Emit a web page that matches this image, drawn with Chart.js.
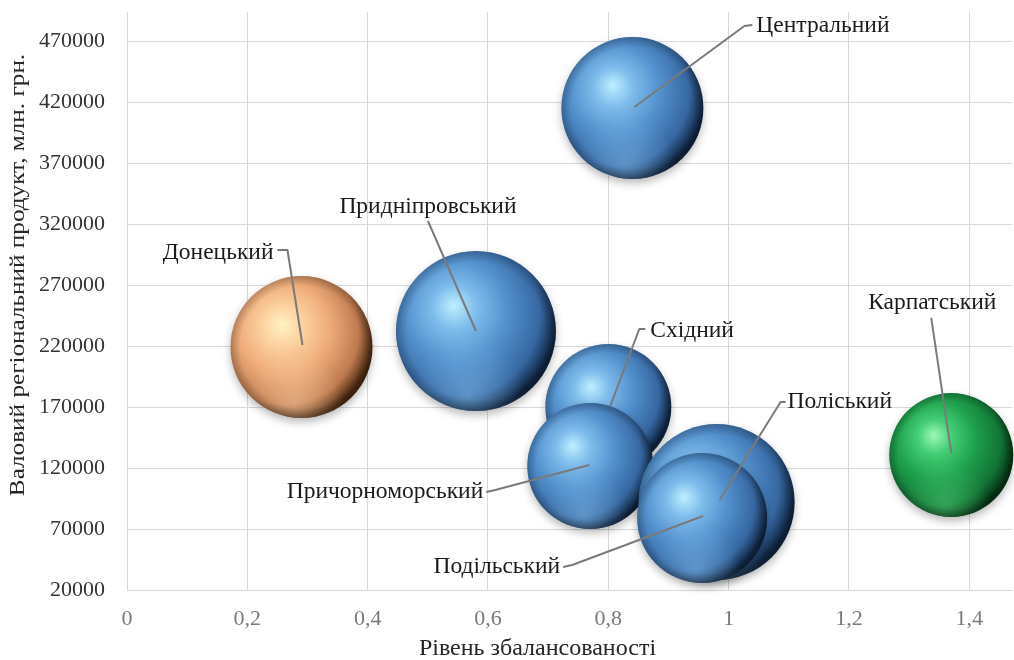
<!DOCTYPE html>
<html lang="uk">
<head>
<meta charset="utf-8">
<title>Рівень збалансованості регіонів</title>
<script src="https://cdn.jsdelivr.net/npm/chart.js@4.4.1/dist/chart.umd.min.js"></script>
<style>
  html, body { margin: 0; padding: 0; background: #fff; }
  #wrap { width: 1014px; height: 660px; position: relative; }
</style>
</head>
<body>
<div id="wrap"><canvas id="bubbleChart"></canvas></div>
<script>
// регіони
const regions = ['Донецький', 'Придніпровський', 'Центральний', 'Східний',
                 'Причорноморський', 'Поліський', 'Подільський', 'Карпатський'];
// рівень збалансованості (вісь X)
const balance = [0.29, 0.58, 0.84, 0.80, 0.77, 0.98, 0.956, 1.37];
// валовий регіональний продукт, млн. грн. (вісь Y)
const grp = [219200, 232300, 415100, 170000, 121600, 92100, 79000, 130700];
// розмір бульбашки
const bubbleSize = [71, 80, 71, 63, 63, 78, 65, 62];

const xTicks = [0, 0.2, 0.4, 0.6, 0.8, 1, 1.2, 1.4];
const yTicks = [20000, 70000, 120000, 170000, 220000, 270000, 320000, 370000, 420000, 470000];

// стилі
const FONT = '"Liberation Serif", "Times New Roman", serif';
const palettes = {
  blue:   ['#bdf0ff', '#7fbdec', '#5290cd', '#3667a1', '#0f2440'],
  orange: ['#fff3c4', '#fdd3a2', '#efac7a', '#bf7b4f', '#4a2810'],
  green:  ['#9ff8b8', '#44cf76', '#1ea04c', '#127435', '#053314']
};
const reflect = {
  blue: '140,200,245',
  orange: '255,215,170',
  green: '90,220,130'
};
const pointColor = ['orange', 'blue', 'blue', 'blue', 'blue', 'blue', 'blue', 'green'];

// розміщення підписів відносно центру бульбашки
const labelLayout = [
  { dx: -28, dy: -94, align: 'right', line: [[1, -2], [-14, -97], [-24, -97]] },
  { dx: -48, dy: -124, align: 'center', line: [[0, 0], [-48, -110]] },
  { dx: 124, dy: -82, align: 'left', line: [[2, -1], [112, -82], [120, -83]] },
  { dx: 42, dy: -76, align: 'left', line: [[2, -1], [31, -78], [37, -78]] },
  { dx: -107, dy: 26, align: 'right', line: [[-1, -1], [-95, 24], [-104, 26]] },
  { dx: 71, dy: -100, align: 'left', line: [[3, -2], [64, -100], [69, -100]] },
  { dx: -142, dy: 49, align: 'right', line: [[1, -2], [-130, 47], [-139, 49]] },
  { dx: -19, dy: -152, align: 'center', line: [[0, -2], [-20, -137]] }
];

function drawSphere(ctx, x, y, r, key) {
  const p = palettes[key];
  ctx.save();
  ctx.shadowColor = 'rgba(0,0,0,0.28)';
  ctx.shadowBlur = 8;
  ctx.shadowOffsetY = 4;
  const g = ctx.createRadialGradient(x - r * 0.28, y - r * 0.32, 0, x - r * 0.22, y - r * 0.2, r * 1.24);
  g.addColorStop(0, p[0]);
  g.addColorStop(0.22, p[1]);
  g.addColorStop(0.52, p[2]);
  g.addColorStop(0.83, p[3]);
  g.addColorStop(1, p[4]);
  ctx.beginPath();
  ctx.arc(x, y, r, 0, Math.PI * 2);
  ctx.fillStyle = g;
  ctx.fill();
  ctx.restore();

  ctx.save();
  ctx.beginPath();
  ctx.arc(x, y, r, 0, Math.PI * 2);
  ctx.clip();
  const b = ctx.createRadialGradient(x - r * 0.1, y + r * 0.78, 0, x - r * 0.1, y + r * 0.78, r * 0.7);
  b.addColorStop(0, 'rgba(' + reflect[key] + ',0.45)');
  b.addColorStop(1, 'rgba(' + reflect[key] + ',0)');
  ctx.fillStyle = b;
  ctx.fillRect(x - r, y - r, r * 2, r * 2);
  const rim = ctx.createRadialGradient(x, y, r * 0.86, x, y, r);
  rim.addColorStop(0, 'rgba(0,0,0,0)');
  rim.addColorStop(1, 'rgba(0,0,0,0.22)');
  ctx.fillStyle = rim;
  ctx.fillRect(x - r, y - r, r * 2, r * 2);
  ctx.restore();
}

const spherePlugin = {
  id: 'spheres',
  afterDatasetsDraw(chart) {
    const ctx = chart.ctx;
    const meta = chart.getDatasetMeta(0);
    meta.data.forEach((el, i) => {
      drawSphere(ctx, el.x, el.y, el.options.radius, pointColor[i]);
    });
    // підписи з виносками
    ctx.save();
    ctx.strokeStyle = '#7a7a7a';
    ctx.lineWidth = 2;
    ctx.lineJoin = 'round';
    ctx.font = '23.5px ' + FONT;
    ctx.fillStyle = '#1a1a1a';
    ctx.textBaseline = 'middle';
    meta.data.forEach((el, i) => {
      const L = labelLayout[i];
      ctx.beginPath();
      L.line.forEach((pt, k) => {
        if (k === 0) ctx.moveTo(el.x + pt[0], el.y + pt[1]);
        else ctx.lineTo(el.x + pt[0], el.y + pt[1]);
      });
      ctx.stroke();
      ctx.textAlign = L.align;
      ctx.fillText(regions[i], el.x + L.dx, el.y + L.dy);
    });
    ctx.restore();
  },
  afterDraw(chart) {
    const ctx = chart.ctx;
    const a = chart.chartArea;
    ctx.save();
    ctx.fillStyle = '#262626';
    ctx.textAlign = 'center';
    ctx.textBaseline = 'middle';
    ctx.font = '24px ' + FONT;
    ctx.fillText('Рівень збалансованості', (a.left + a.right) / 2 - 32, 649);
    ctx.translate(19, 275);
    ctx.rotate(-Math.PI / 2);
    ctx.scale(1.26, 1);
    ctx.font = '20px ' + FONT;
    ctx.fillText('Валовий регіональний продукт, млн. грн.', 0, 0);
    ctx.restore();
  }
};

const points = regions.map((name, i) => ({ x: balance[i], y: grp[i], r: bubbleSize[i] }));

new Chart(document.getElementById('bubbleChart'), {
  type: 'bubble',
  data: {
    datasets: [{
      label: 'Регіони',
      data: points,
      backgroundColor: 'rgba(0,0,0,0)',
      borderWidth: 0,
      clip: false
    }]
  },
  options: {
    responsive: true,
    maintainAspectRatio: false,
    animation: false,
    layout: { autoPadding: false, padding: { top: 12, right: 2, left: 0, bottom: 0 } },
    plugins: {
      legend: { display: false },
      tooltip: { enabled: false }
    },
    scales: {
      x: {
        type: 'linear',
        min: 0,
        max: 1.471,
        afterBuildTicks: (scale) => { scale.ticks = xTicks.map(v => ({ value: v })); },
        afterFit: (scale) => { scale.height = 70; scale.paddingLeft = 0; scale.paddingRight = 0; },
        grid: { color: '#d9d9d9', drawTicks: false },
        border: { color: '#d9d9d9' },
        ticks: {
          padding: 16,
          color: '#7a7a7a',
          font: { family: FONT, size: 22 },
          callback: (v) => String(v).replace('.', ',')
        }
      },
      y: {
        type: 'linear',
        min: 20000,
        max: 493800,
        afterBuildTicks: (scale) => { scale.ticks = yTicks.map(v => ({ value: v })); },
        afterFit: (scale) => { scale.width = 127; scale.paddingTop = 0; scale.paddingBottom = 0; },
        grid: { color: '#d9d9d9', drawTicks: false },
        border: { color: '#d9d9d9' },
        ticks: {
          padding: 22,
          color: '#333333',
          font: { family: FONT, size: 22 },
          callback: (v) => String(v)
        }
      }
    }
  },
  plugins: [spherePlugin]
});
</script>
</body>
</html>
